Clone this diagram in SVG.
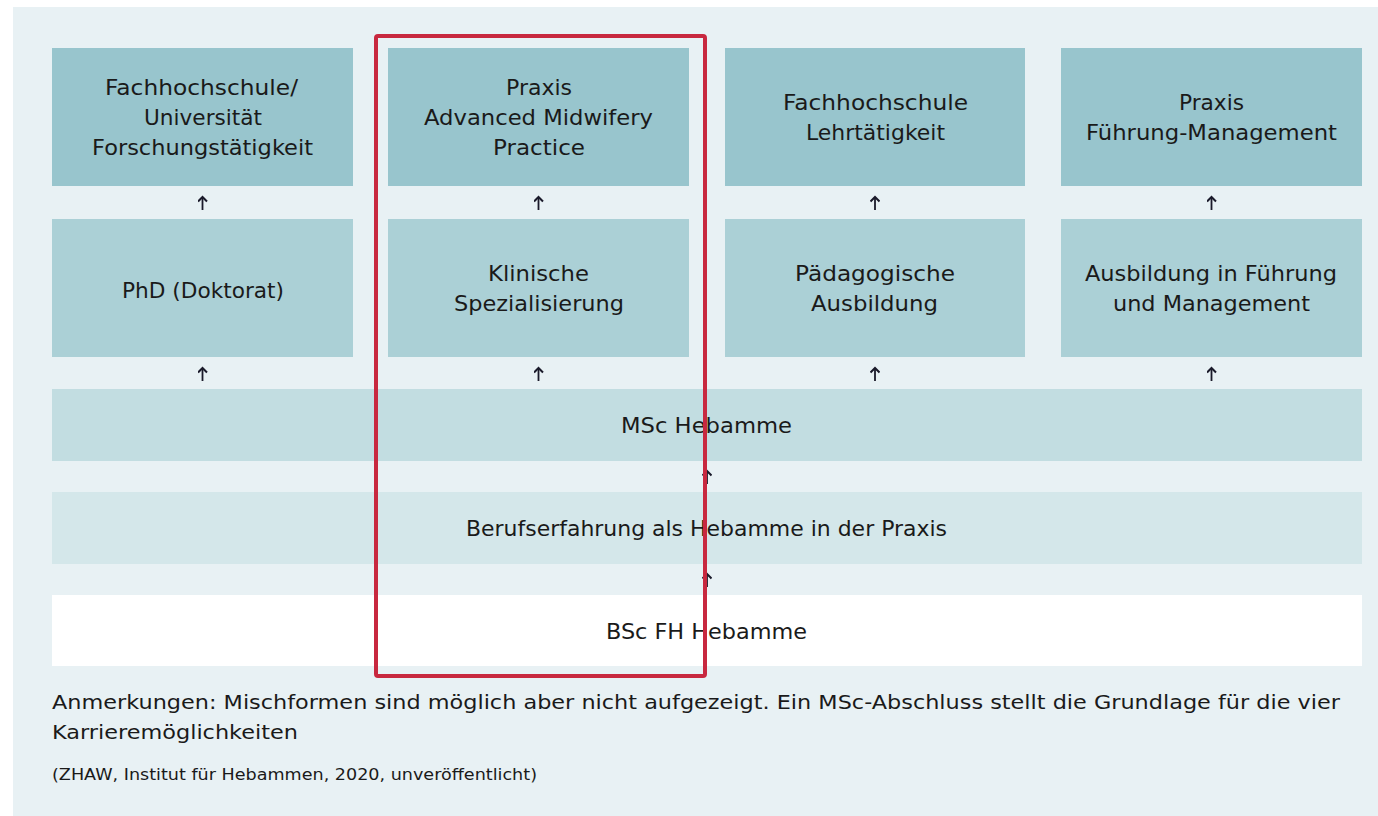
<svg xmlns="http://www.w3.org/2000/svg" width="1378" height="816" viewBox="0 0 1378 816">
<defs>
<marker id="ah" viewBox="0 0 10 10" refX="7" refY="5" markerWidth="10" markerHeight="10" markerUnits="userSpaceOnUse" orient="auto">
<path d="M2.5,0.5 L7,5 L2.5,9.5" fill="none" stroke="#1a1a2a" stroke-width="2"/>
</marker>
<style>
.t{font-family:"DejaVu Sans","Liberation Sans",sans-serif;font-size:21px;fill:#1a1a1a;text-anchor:middle}
.n{font-family:"DejaVu Sans","Liberation Sans",sans-serif;font-size:19.5px;fill:#1a1a1a}
.s{font-family:"DejaVu Sans","Liberation Sans",sans-serif;font-size:15px;fill:#1a1a1a}
.r1{fill:#98c5cd}
.r2{fill:#abd0d6}
.c line{stroke:#1a1a2a;stroke-width:1.8;marker-end:url(#ah)}
</style>
</defs>
<rect x="0" y="0" width="1378" height="816" fill="#ffffff"/>
<rect x="13" y="7" width="1365" height="809" fill="#e8f1f4"/>

<g id="n-forschung"><rect class="r1" x="52" y="48" width="301" height="138"/>
<text class="t" x="201.5" y="95" textLength="193" lengthAdjust="spacingAndGlyphs">Fachhochschule/</text><text class="t" x="203" y="125" textLength="118" lengthAdjust="spacingAndGlyphs">Universität</text><text class="t" x="202.5" y="155" textLength="221" lengthAdjust="spacingAndGlyphs">Forschungstätigkeit</text></g>
<g id="n-amp"><rect class="r1" x="388" y="48" width="301" height="138"/>
<text class="t" x="539" y="95" textLength="66" lengthAdjust="spacingAndGlyphs">Praxis</text><text class="t" x="538.5" y="125" textLength="229" lengthAdjust="spacingAndGlyphs">Advanced Midwifery</text><text class="t" x="539" y="155" textLength="92" lengthAdjust="spacingAndGlyphs">Practice</text></g>
<g id="n-lehr"><rect class="r1" x="725" y="48" width="300" height="138"/>
<text class="t" x="875.5" y="110" textLength="185" lengthAdjust="spacingAndGlyphs">Fachhochschule</text><text class="t" x="875.5" y="140" textLength="139" lengthAdjust="spacingAndGlyphs">Lehrtätigkeit</text></g>
<g id="n-fuehrung"><rect class="r1" x="1061" y="48" width="301" height="138"/>
<text class="t" x="1211.5" y="110" textLength="65" lengthAdjust="spacingAndGlyphs">Praxis</text><text class="t" x="1211.5" y="140" textLength="251" lengthAdjust="spacingAndGlyphs">Führung-Management</text></g>

<g id="n-phd"><rect class="r2" x="52" y="219" width="301" height="138"/>
<text class="t" x="203" y="298" textLength="162" lengthAdjust="spacingAndGlyphs">PhD (Doktorat)</text></g>
<g id="n-klin"><rect class="r2" x="388" y="219" width="301" height="138"/>
<text class="t" x="538.5" y="281" textLength="101" lengthAdjust="spacingAndGlyphs">Klinische</text><text class="t" x="539" y="311" textLength="170" lengthAdjust="spacingAndGlyphs">Spezialisierung</text></g>
<g id="n-paed"><rect class="r2" x="725" y="219" width="300" height="138"/>
<text class="t" x="875" y="281" textLength="160" lengthAdjust="spacingAndGlyphs">Pädagogische</text><text class="t" x="874.5" y="311" textLength="127" lengthAdjust="spacingAndGlyphs">Ausbildung</text></g>
<g id="n-ausb"><rect class="r2" x="1061" y="219" width="301" height="138"/>
<text class="t" x="1211" y="281" textLength="252" lengthAdjust="spacingAndGlyphs">Ausbildung in Führung</text><text class="t" x="1211.5" y="311" textLength="197" lengthAdjust="spacingAndGlyphs">und Management</text></g>

<g id="n-msc"><rect fill="#c2dde1" x="52" y="389" width="1310" height="72"/>
<text class="t" x="706.5" y="433" textLength="171" lengthAdjust="spacingAndGlyphs">MSc Hebamme</text></g>
<g id="n-beruf"><rect fill="#d4e7ea" x="52" y="492" width="1310" height="72"/>
<text class="t" x="706.5" y="536" textLength="481" lengthAdjust="spacingAndGlyphs">Berufserfahrung als Hebamme in der Praxis</text></g>
<g id="n-bsc"><rect fill="#ffffff" x="52" y="595" width="1310" height="71"/>
<text class="t" x="706.5" y="639" textLength="201" lengthAdjust="spacingAndGlyphs">BSc FH Hebamme</text></g>

<g id="connectors" class="c">
<line x1="202.5" y1="210" x2="202.5" y2="197"/>
<line x1="538.5" y1="210" x2="538.5" y2="197"/>
<line x1="875" y1="210" x2="875" y2="197"/>
<line x1="1211.5" y1="210" x2="1211.5" y2="197"/>
<line x1="202.5" y1="381" x2="202.5" y2="368"/>
<line x1="538.5" y1="381" x2="538.5" y2="368"/>
<line x1="875" y1="381" x2="875" y2="368"/>
<line x1="1211.5" y1="381" x2="1211.5" y2="368"/>
<line x1="707" y1="484" x2="707" y2="471"/>
<line x1="707" y1="587" x2="707" y2="574"/>
</g>

<rect id="highlight" x="376" y="36" width="329" height="640" rx="2" fill="none" stroke="#c8283f" stroke-width="4"/>

<g id="notes">
<text class="n" x="52" y="709" textLength="1288" lengthAdjust="spacingAndGlyphs">Anmerkungen: Mischformen sind möglich aber nicht aufgezeigt. Ein MSc-Abschluss stellt die Grundlage für die vier</text>
<text class="n" x="52" y="739" textLength="246" lengthAdjust="spacingAndGlyphs">Karrieremöglichkeiten</text>
<text class="s" x="52" y="780" textLength="485" lengthAdjust="spacingAndGlyphs">(ZHAW, Institut für Hebammen, 2020, unveröffentlicht)</text>
</g>
</svg>
